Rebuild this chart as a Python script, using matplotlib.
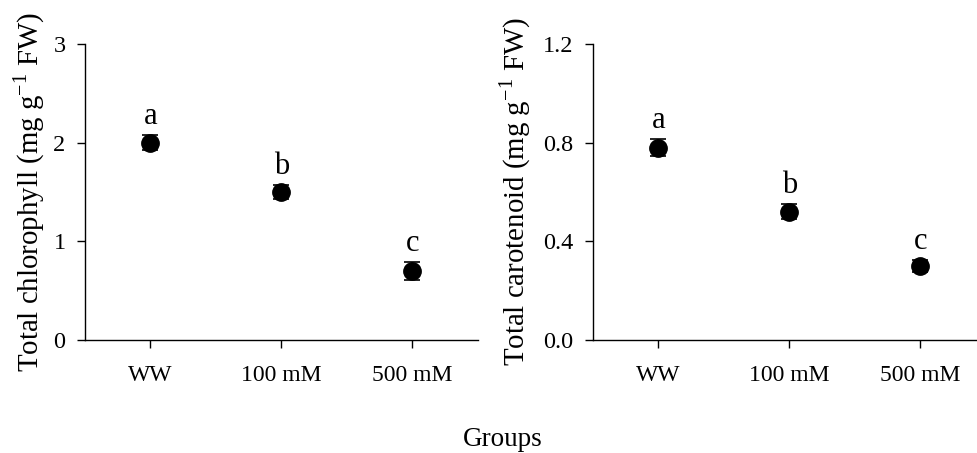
import numpy as np
import matplotlib
matplotlib.use('Agg')
import matplotlib.pyplot as plt

plt.rcParams['font.family'] = ['Liberation Serif', 'DejaVu Serif']
plt.rcParams['mathtext.fontset'] = 'custom'
plt.rcParams['mathtext.rm'] = 'Liberation Serif'

groups = ['WW', '100 mM', '500 mM']
chl_mean = [2.0, 1.5, 0.70]
chl_err = [0.076, 0.07, 0.09]
car_mean = [0.78, 0.52, 0.30]
car_err = [0.034, 0.03, 0.025]
letters = ['a', 'b', 'c']

fig = plt.figure(figsize=(9.78, 4.53), dpi=100)
ax1 = fig.add_axes([0.0869, 0.2494, 0.4018, 0.6534])
ax2 = fig.add_axes([0.6063, 0.2494, 0.4018, 0.6534])

panels = [
    (ax1, chl_mean, chl_err, [0, 1, 2, 3], ['0', '1', '2', '3'], (0, 3),
     r'Total chlorophyll (mg g$^{\mathregular{-1}}$ FW)', -0.097),
    (ax2, car_mean, car_err, [0, 0.4, 0.8, 1.2], ['0.0', '0.4', '0.8', '1.2'], (0, 1.2),
     r'Total carotenoid (mg g$^{\mathregular{-1}}$ FW)', -0.152),
]

x = np.arange(len(groups))
for ax, mean, err, yt, ytl, ylim, ylab, lx in panels:
    ax.errorbar(x, mean, yerr=err, fmt='o', color='black', ms=12.5,
                capsize=6, elinewidth=1.2, capthick=1.2)
    for xi, m, e, lt in zip(x, mean, err, letters):
        ax.annotate(lt, (xi, m + e), xytext=(0, 3), textcoords='offset points',
                    ha='center', va='bottom', fontsize=22)
    ax.set_xlim(-0.5, 2.5)
    ax.set_ylim(*ylim)
    ax.set_xticks(x)
    ax.set_xticklabels(groups, fontsize=17)
    ax.set_yticks(yt)
    ax.set_yticklabels(ytl, fontsize=17.5)
    ax.spines['top'].set_visible(False)
    ax.spines['right'].set_visible(False)
    for s in ['left', 'bottom']:
        ax.spines[s].set_linewidth(1.0)
    ax.tick_params(direction='out', length=6, width=1.0, pad=8)
    ax.tick_params(axis='x', pad=12)
    ax.set_ylabel(ylab, fontsize=20.75)
    ax.yaxis.set_label_coords(lx, 0.5)
    ax.patch.set_visible(False)

fig.text(0.514, 0.029, 'Groups', ha='center', va='center', fontsize=19.5)

fig.savefig('out.png', dpi=100)
